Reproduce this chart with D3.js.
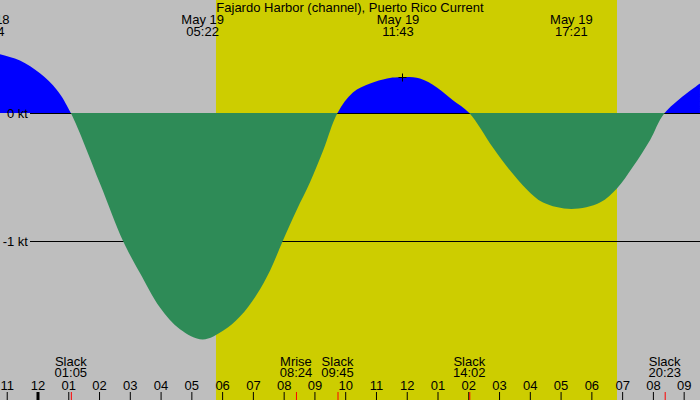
<!DOCTYPE html>
<html>
<head>
<meta charset="utf-8">
<script src="https://cdn.jsdelivr.net/npm/d3@7"></script>
<style>
  body { margin: 0; background: #bebebe; }
  svg text { font-family: "Liberation Sans", Arial, sans-serif; font-size: 13px; fill: #000; }
</style>
</head>
<body>
<svg id="chart" width="700" height="400"></svg>
<script>
// curve readings: hours after midnight May 19, speed in knots
const sampleHours = [-1.62, -1.22, -0.57, 0.08, 0.63, 1.083, 2.03, 2.78, 3.33, 3.98, 4.63, 5.367,
  6.04, 6.58, 7.12, 7.56, 7.97, 8.42, 8.86, 9.29, 9.75, 10.25, 10.81, 11.36, 11.72, 12.43,
  12.98, 13.50, 14.033, 14.80, 15.36, 15.91, 16.43, 17.35, 18.28, 18.83, 19.35, 19.91, 20.383, 21.53];
const sampleKnots = [0.48, 0.46, 0.41, 0.31, 0.18, 0, -0.55, -1.0, -1.25, -1.52, -1.69, -1.77,
  -1.70, -1.59, -1.42, -1.23, -1.00, -0.76, -0.54, -0.29, 0, 0.16, 0.23, 0.27, 0.28, 0.27,
  0.20, 0.10, 0, -0.27, -0.45, -0.60, -0.70, -0.75, -0.70, -0.59, -0.42, -0.21, 0, 0.23];

const maxDates = ["May 18", "May 19", "May 19", "May 19"];
const maxTimes = ["22:24", "05:22", "11:43", "17:21"];

const eventNames = ["Slack", "Mrise", "Slack", "Slack", "Slack"];
const eventTimes = ["01:05", "08:24", "09:45", "14:02", "20:23"];

const sunrise = "05:48";
const sunset = "18:50";
const markTime = "11:51";

const hourTicks = d3.range(-1, 22);
const knotTicks = [0, -1];
const title = "Fajardo Harbor (channel), Puerto Rico Current";

function toHours(s, date) {
  const [hh, mm] = s.split(":").map(Number);
  return hh + mm / 60 - (date === "May 18" ? 24 : 0);
}

const svg = d3.select("#chart");
const width = 700, height = 400;

const x = d3.scaleLinear().domain([0, 21]).range([37.5, 37.5 + 21 * 30.77]);
const y = d3.scaleLinear().domain([0, -1]).range([113, 241]);

const samples = sampleHours.map((h, i) => ({ h, v: sampleKnots[i] }));

// background + daylight
svg.append("rect").attr("width", width).attr("height", height).attr("fill", "#bebebe");
svg.append("rect")
  .attr("x", x(toHours(sunrise))).attr("y", 0)
  .attr("width", x(toHours(sunset)) - x(toHours(sunrise)))
  .attr("height", height)
  .attr("fill", "#cdcd00");

// -1 kt line sits under the fills
svg.append("line")
  .attr("x1", 30).attr("x2", width)
  .attr("y1", y(-1) + 0.5).attr("y2", y(-1) + 0.5)
  .attr("stroke", "#000");

const defs = svg.append("defs");
defs.append("clipPath").attr("id", "above")
  .append("rect").attr("x", 0).attr("y", 0).attr("width", width).attr("height", y(0));
defs.append("clipPath").attr("id", "below")
  .append("rect").attr("x", 0).attr("y", y(0)).attr("width", width).attr("height", height - y(0));

const area = d3.area()
  .x(d => x(d.h))
  .y0(y(0))
  .y1(d => y(d.v))
  .curve(d3.curveCatmullRom.alpha(0.5));

svg.append("path").datum(samples)
  .attr("clip-path", "url(#above)")
  .attr("fill", "#0000ff")
  .attr("d", area);

svg.append("line")
  .attr("x1", 30).attr("x2", width)
  .attr("y1", y(0) + 0.5).attr("y2", y(0) + 0.5)
  .attr("stroke", "#000");

svg.append("path").datum(samples)
  .attr("clip-path", "url(#below)")
  .attr("fill", "#2e8b57")
  .attr("d", area);

// knot labels
svg.selectAll("text.kt")
  .data(knotTicks)
  .enter().append("text")
  .attr("class", "kt")
  .attr("x", 28)
  .attr("y", d => y(d) + 4.5)
  .attr("text-anchor", "end")
  .text(d => `${d} kt`);

// title
svg.append("text")
  .attr("x", width / 2).attr("y", 12)
  .attr("text-anchor", "middle")
  .text(title);

// max current labels
const maxG = svg.selectAll("g.max")
  .data(maxTimes.map((t, i) => ({ t, date: maxDates[i], h: toHours(t, maxDates[i]) })))
  .enter().append("g")
  .attr("class", "max")
  .attr("transform", d => `translate(${x(d.h)},0)`);
maxG.append("text").attr("y", 24).attr("text-anchor", "middle").text(d => d.date);
maxG.append("text").attr("y", 36).attr("text-anchor", "middle").text(d => d.t);

// mark
const mh = toHours(markTime);
const mx = Math.round(x(mh)) + 0.5, my = Math.round(y(0.281)) + 0.5;
svg.append("path")
  .attr("d", `M${mx - 4},${my}H${mx + 4}M${mx},${my - 4}V${my + 4}`)
  .attr("stroke", "#000")
  .attr("fill", "none");

// events along the bottom
const evG = svg.selectAll("g.ev")
  .data(eventTimes.map((t, i) => ({ t, name: eventNames[i], h: toHours(t) })))
  .enter().append("g")
  .attr("class", "ev")
  .attr("transform", d => `translate(${x(d.h)},0)`);
evG.append("text").attr("y", 366).attr("text-anchor", "middle").text(d => d.name);
evG.append("text").attr("y", 377).attr("text-anchor", "middle").text(d => d.t);

// hour axis
const hourAxis = d3.axisTop(x)
  .tickValues(hourTicks)
  .tickSize(8)
  .tickPadding(2)
  .tickFormat(h => String(((h % 12) + 12) % 12 || 12).padStart(2, "0"));

const axisG = svg.append("g")
  .attr("transform", `translate(0,${height})`)
  .call(hourAxis);
axisG.select(".domain").remove();
axisG.selectAll("text")
  .attr("font-family", null).attr("font-size", null)
  .style("font-family", "'Liberation Sans', Arial, sans-serif")
  .style("font-size", "13px")
  .attr("fill", "#000");
axisG.selectAll("line").attr("stroke", "#000");
axisG.selectAll(".tick").filter(d => d === 0).select("line").attr("stroke-width", 3);

// event ticks in red
const evAxis = d3.axisTop(x)
  .tickValues(eventTimes.map(t => toHours(t)))
  .tickSize(8)
  .tickFormat("");
const evAxisG = svg.append("g")
  .attr("transform", `translate(0,${height})`)
  .call(evAxis);
evAxisG.select(".domain").remove();
evAxisG.selectAll("line").attr("stroke", "#ff0000");
</script>
</body>
</html>
